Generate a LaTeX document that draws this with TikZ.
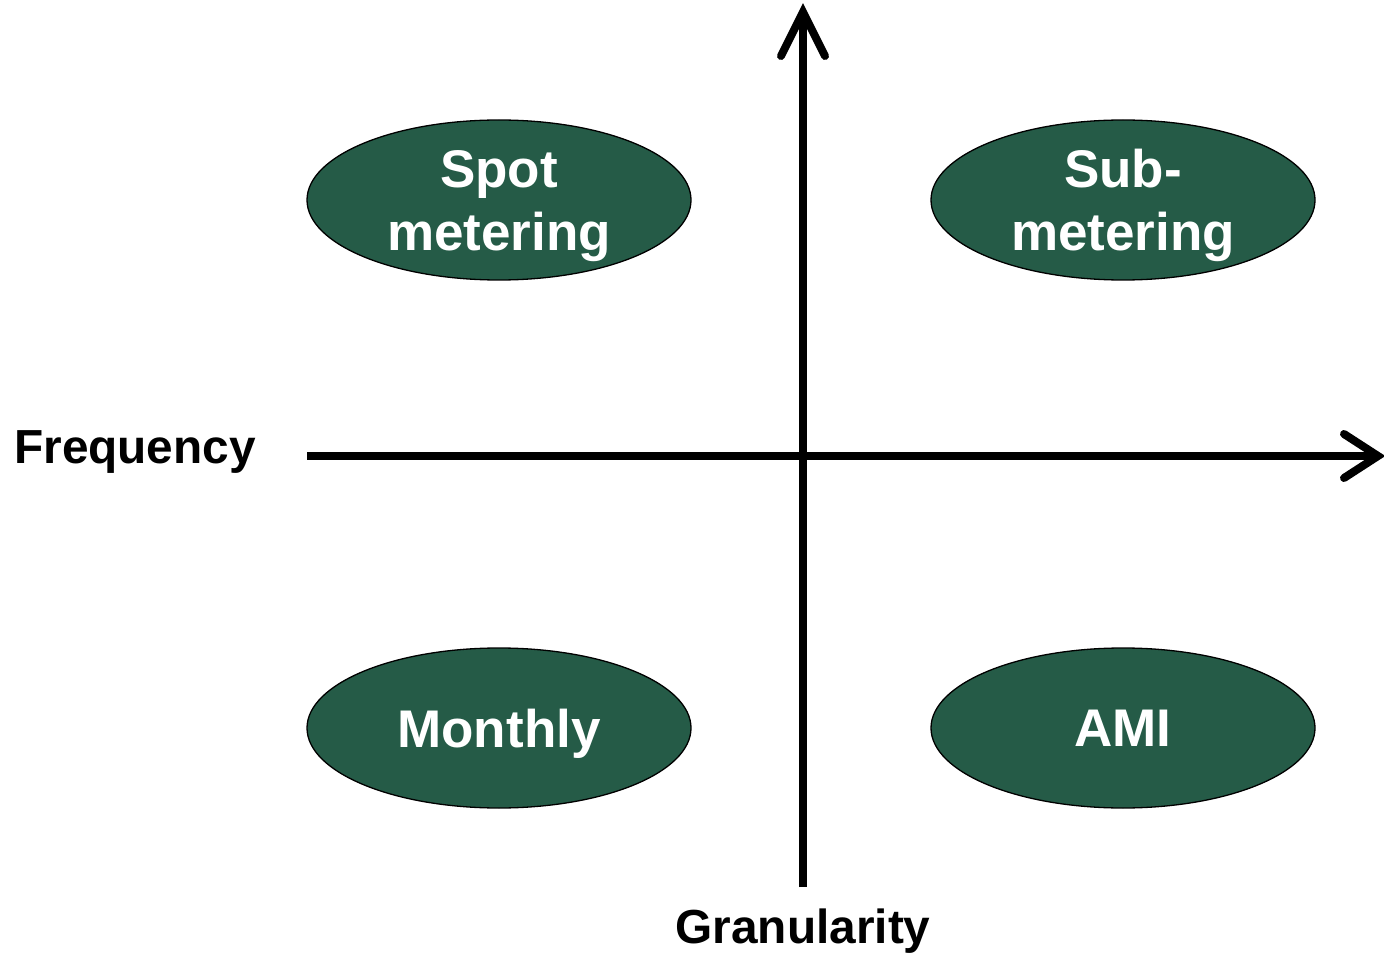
\documentclass[tikz,border=0pt]{standalone}
\usepackage{fontspec}
\setmainfont{Liberation Sans}
\usetikzlibrary{shapes.geometric}
\definecolor{dgreen}{RGB}{37,91,71}
\begin{document}
\begin{tikzpicture}[x=1pt,y=-1pt,
  oval/.style={ellipse,draw=black,line width=1.3pt,fill=dgreen,minimum width=384pt,minimum height=160pt,inner sep=0pt,
    text=white,font=\fontsize{53}{63}\selectfont\bfseries,align=center,text depth=0pt},
  axis/.style={line width=8pt,black},
  chev/.style={line width=8pt,line cap=round,line join=miter,black},
  lbl/.style={font=\fontsize{47.8}{56}\selectfont\bfseries,text=black,inner sep=0pt}]
\useasboundingbox (0,0) rectangle (1384,957);
\coordinate (vb) at (803,887);
\coordinate (vt) at (803,12);
\coordinate (hl) at (307,456);
\coordinate (hr) at (1378,456);
\draw[axis] (vb) -- ([yshift=-2pt]vt);
\draw[chev] ([xshift=-22pt,yshift=-44pt]vt) -- (vt) -- ([xshift=22pt,yshift=-44pt]vt);
\draw[axis] (hl) -- ([xshift=-2pt]hr);
\draw[chev] ([xshift=-34pt,yshift=-22pt]hr) -- (hr) -- ([xshift=-34pt,yshift=22pt]hr);
\node[oval] (spot) at (499,200) {Spot\\metering};
\node[oval] (sub) at (1123,200) {Sub-\\metering};
\node[oval] (mon) at (499,728) {Monthly};
\node[oval] (ami) at (1123,728) {AMI};
\node[lbl,anchor=base west] (freq) at (14,463) {Frequency};
\node[lbl,anchor=base] (gran) at (803,943) {Granularity};
\end{tikzpicture}
\end{document}
